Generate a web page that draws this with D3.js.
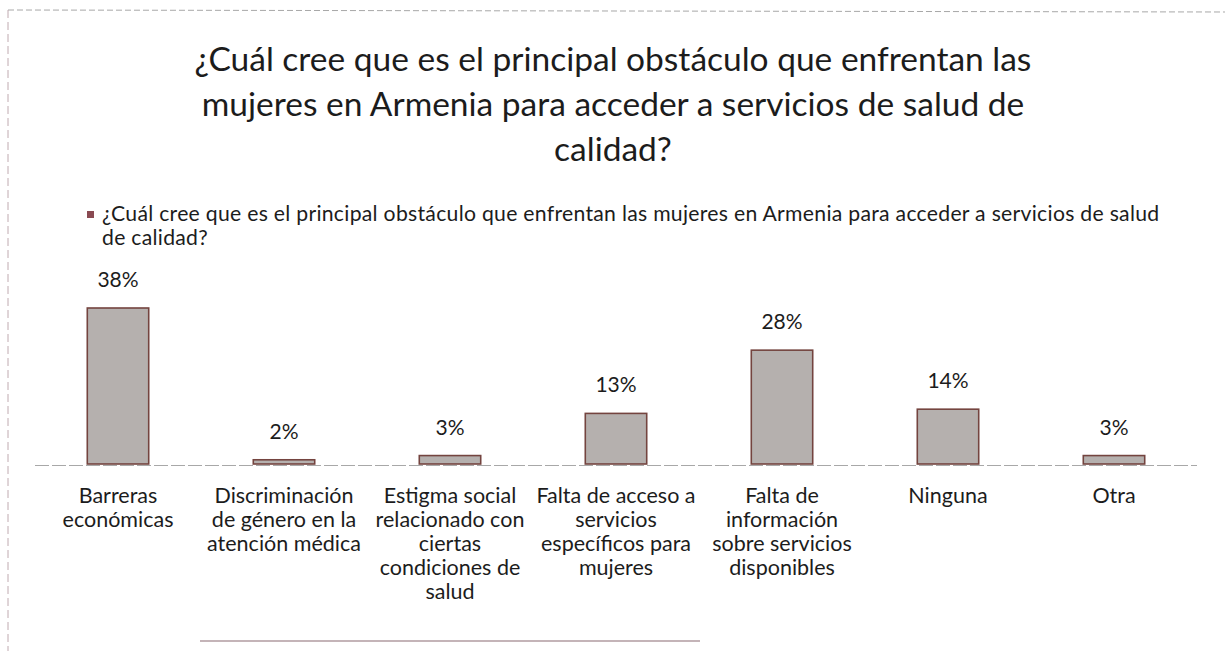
<!DOCTYPE html>
<html>
<head>
<meta charset="utf-8">
<script src="https://cdn.jsdelivr.net/npm/d3@7"></script>
<style>
  html, body { margin: 0; padding: 0; background: #ffffff; }
  svg { display: block; }
</style>
</head>
<body>
<svg id="chart" width="1225" height="651"></svg>
<script>
const titleLines = [
  "¿Cuál cree que es el principal obstáculo que enfrentan las",
  "mujeres en Armenia para acceder a servicios de salud de",
  "calidad?"
];
const legendLines = [
  "¿Cuál cree que es el principal obstáculo que enfrentan las mujeres en Armenia para acceder a servicios de salud",
  "de calidad?"
];
const categories = [
  ["Barreras", "económicas"],
  ["Discriminación", "de género en la", "atención médica"],
  ["Estigma social", "relacionado con", "ciertas", "condiciones de", "salud"],
  ["Falta de acceso a", "servicios", "específicos para", "mujeres"],
  ["Falta de", "información", "sobre servicios", "disponibles"],
  ["Ninguna"],
  ["Otra"]
];
const values = [38, 2, 3, 13, 28, 14, 3];
const valueLabels = ["38%", "2%", "3%", "13%", "28%", "14%", "3%"];

const svg = d3.select("#chart");
const font = "Lato, 'Open Sans', sans-serif";
const ink = "#1c1c1c";

// frame
svg.append("line").attr("x1", 8).attr("x2", 1225).attr("y1", 10).attr("y2", 12)
  .attr("stroke", "#a8a8a8").attr("stroke-width", 1).attr("stroke-dasharray", "6,3");
svg.append("line").attr("x1", 8).attr("x2", 8).attr("y1", 10).attr("y2", 651)
  .attr("stroke", "#c0aab0").attr("stroke-width", 1).attr("stroke-dasharray", "8,4");
svg.append("line").attr("x1", 200).attr("x2", 700).attr("y1", 641).attr("y2", 641)
  .attr("stroke", "#c4b4b8").attr("stroke-width", 2);

// title (one text, wrapped lines)
svg.append("text")
  .attr("text-anchor", "middle")
  .attr("font-family", font).attr("font-size", 33.5)
  .attr("fill", ink)
  .selectAll("tspan").data(titleLines).join("tspan")
  .attr("x", 613).attr("y", (d, i) => 71 + i * 45)
  .text(d => d);

// legend
svg.append("rect").attr("x", 87).attr("y", 211).attr("width", 7).attr("height", 7)
  .attr("fill", "#8a4a52");
svg.append("text")
  .attr("font-family", font).attr("font-size", 21.2)
  .attr("letter-spacing", 0.28)
  .attr("fill", ink)
  .selectAll("tspan").data(legendLines).join("tspan")
  .attr("x", 102).attr("y", (d, i) => 221 + i * 24.2)
  .text(d => d);

// scales
const x = d3.scaleBand().domain(d3.range(values.length)).range([35, 1197]).padding(0);
const y = d3.scaleLinear().domain([1, 38]).range([464, 308]);
const barW = x.bandwidth() * 0.37;

// axis baseline
svg.append("line").attr("x1", 35).attr("x2", 1197).attr("y1", y(1) + 1.5).attr("y2", y(1) + 1.5)
  .attr("stroke", "#a8a8a8").attr("stroke-width", 1.2).attr("stroke-dasharray", "14,3");

// bars
svg.append("g").selectAll("rect").data(values).join("rect")
  .attr("x", (d, i) => x(i) + x.bandwidth() / 2 - barW / 2)
  .attr("y", d => y(d))
  .attr("width", barW)
  .attr("height", d => y(1) - y(d))
  .attr("fill", "#b5b0ae")
  .attr("stroke", "#74443f")
  .attr("stroke-width", 1.6);

// value labels
svg.append("g").selectAll("text").data(values).join("text")
  .attr("x", (d, i) => x(i) + x.bandwidth() / 2)
  .attr("y", d => y(d) - 21)
  .attr("text-anchor", "middle")
  .attr("font-family", font).attr("font-size", 21)
  .attr("fill", ink).text((d, i) => valueLabels[i]);

// category labels
const cat = svg.append("g").selectAll("text").data(categories).join("text")
  .attr("text-anchor", "middle")
  .attr("font-family", font).attr("font-size", 21.5)
  .attr("fill", ink);
cat.selectAll("tspan").data((d, i) => d.map(t => ({ t, i }))).join("tspan")
  .attr("x", d => x(d.i) + x.bandwidth() / 2)
  .attr("y", (d, j) => 503 + j * 24)
  .text(d => d.t);
</script>
</body>
</html>
